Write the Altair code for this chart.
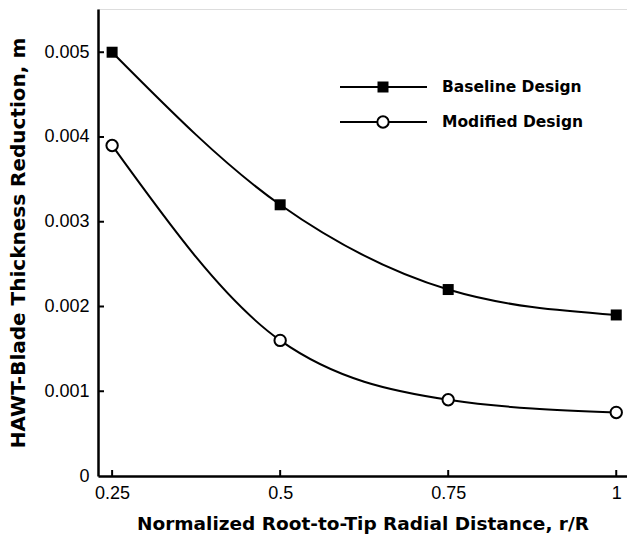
import altair as alt
import pandas as pd

r_over_R = [0.25, 0.5, 0.75, 1.0]
baseline = [0.0050, 0.0032, 0.0022, 0.0019]
modified = [0.0039, 0.0016, 0.0009, 0.00075]
x_ticks = [0.25, 0.5, 0.75, 1.0]
y_ticks = [0, 0.001, 0.002, 0.003, 0.004, 0.005]
series_names = ["Baseline Design", "Modified Design"]

W, H = 529, 467
LFONT = "Liberation Sans"
TFONT = "DejaVu Sans"

df = pd.DataFrame({
    "x": r_over_R * 2,
    "y": baseline + modified,
    "s": [series_names[0]] * 4 + [series_names[1]] * 4,
})

xs = alt.Scale(domain=[0.229, 1.016], nice=False, zero=False)
ys = alt.Scale(domain=[0, 0.00551], nice=False, zero=False)

xax = alt.Axis(values=x_ticks, format="~g", ticks=False, grid=False, domainColor="black",
               domainWidth=2.5, labelFont=LFONT, labelFontSize=18, labelColor="black",
               labelPadding=8, labelFlush=False, labelOverlap=False,
               title="Normalized Root-to-Tip Radial Distance, r/R",
               titleFont=TFONT, titleFontSize=18.5, titleFontWeight="bold", titleColor="black",
               titlePadding=12)
yax = alt.Axis(values=y_ticks, format="~g", ticks=False, grid=False, domainColor="black",
               domainWidth=2.5, labelFont=LFONT, labelFontSize=18, labelColor="black",
               labelPadding=9, labelFlush=False, labelOverlap=False,
               title="HAWT-Blade Thickness Reduction, m",
               titleFont=TFONT, titleFontSize=20, titleFontWeight="bold", titleColor="black",
               titlePadding=15)

base = alt.Chart(df)
lines = base.mark_line(color="black", strokeWidth=2, interpolate="monotone").encode(
    x=alt.X("x:Q", scale=xs, axis=xax),
    y=alt.Y("y:Q", scale=ys, axis=yax),
    detail="s:N",
)
sq = base.transform_filter(alt.datum.s == series_names[0]).mark_point(
    shape="square", filled=True, color="black", size=121, opacity=1).encode(
    x=alt.X("x:Q", scale=xs), y=alt.Y("y:Q", scale=ys))
ci = base.transform_filter(alt.datum.s == series_names[1]).mark_point(
    shape="circle", filled=True, fill="white", stroke="black", strokeWidth=2, size=130,
    opacity=1).encode(x=alt.X("x:Q", scale=xs), y=alt.Y("y:Q", scale=ys))

xt = alt.Chart(pd.DataFrame({"t": x_ticks})).mark_rule(color="black", strokeWidth=2).encode(
    x=alt.X("t:Q", scale=xs), y=alt.value(H), y2=alt.value(H - 6))
yt = alt.Chart(pd.DataFrame({"t": y_ticks[1:]})).mark_rule(color="black", strokeWidth=2).encode(
    y=alt.Y("t:Q", scale=ys), x=alt.value(0), x2=alt.value(6))

leg = pd.DataFrame({"s": series_names, "row": [0, 1]})
lg = alt.Chart(leg).transform_calculate(py="78 + datum.row * 35")
leg_lines = lg.mark_rule(color="black", strokeWidth=2).encode(
    x=alt.value(242), x2=alt.value(329), y=alt.Y("py:Q", scale=None))
leg_sq = lg.transform_filter("datum.row == 0").mark_point(
    shape="square", filled=True, color="black", size=121, opacity=1).encode(
    x=alt.value(285), y=alt.Y("py:Q", scale=None))
leg_ci = lg.transform_filter("datum.row == 1").mark_point(
    shape="circle", filled=True, fill="white", stroke="black", strokeWidth=2, size=130,
    opacity=1).encode(x=alt.value(285), y=alt.Y("py:Q", scale=None))
leg_txt = lg.mark_text(align="left", baseline="middle", font=TFONT, fontSize=15.5,
                       fontWeight="bold", color="black").encode(
    x=alt.value(344), y=alt.Y("py:Q", scale=None), text="s:N")

chart = alt.layer(lines, xt, yt, sq, ci, leg_lines, leg_sq, leg_ci, leg_txt).properties(
    width=W, height=H,
    autosize=alt.AutoSizeParams(type="none"),
    padding={"left": 98, "top": 9, "right": 0, "bottom": 66},
).configure_view(stroke=None).configure(background="white")

chart.save("out.html", embed_options={"renderer": "svg", "actions": False})
